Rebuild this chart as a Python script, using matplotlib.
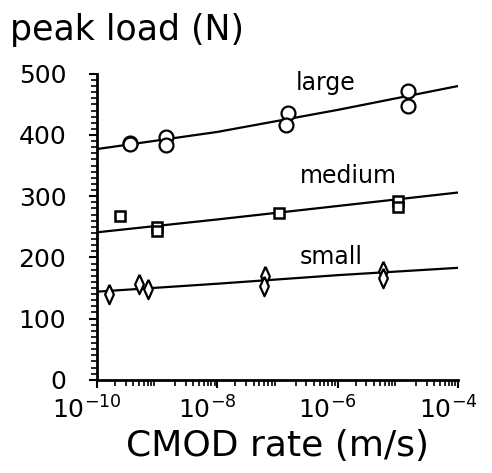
import matplotlib.pyplot as plt
import matplotlib.transforms as mtransforms
from matplotlib.ticker import FixedLocator, MultipleLocator, LogLocator, NullFormatter

# CMOD rate (m/s) and peak load (N)
large_rate = [3.5e-10, 3.5e-10, 1.4e-9, 1.4e-9, 1.5e-7, 1.4e-7, 1.5e-5, 1.5e-5]
large_load = [387, 385, 397, 384, 436, 416, 472, 448]
medium_rate = [2.4e-10, 9.8e-10, 9.8e-10, 1.05e-7, 1.0e-5, 1.0e-5]
medium_load = [268, 249, 243, 272, 292, 282]
small_rate = [1.6e-10, 5.0e-10, 7.0e-10, 6.3e-8, 6.0e-8, 5.6e-6, 5.6e-6]
small_load = [140, 157, 148, 169, 154, 178, 166]

# fitted curves
fit_rate = [1e-10, 1e-8, 1e-6, 1e-4]
large_fit = [377, 405, 441, 480]
medium_fit = [241, 262, 284, 306]
small_fit = [144, 157, 171, 183]

labels = ['large', 'medium', 'small']
label_pos = [(6.3e-7, 485), (1.5e-6, 333), (7.8e-7, 200)]

thin_diamond = [(0, 1), (0.45, 0), (0, -1), (-0.45, 0), (0, 1)]

fig = plt.figure(figsize=(4.92, 4.73), dpi=100)
ax = fig.add_axes([0.197, 0.197, 0.734, 0.647])

ax.plot(fit_rate, large_fit, 'k-', lw=1.6)
ax.plot(fit_rate, medium_fit, 'k-', lw=1.6)
ax.plot(fit_rate, small_fit, 'k-', lw=1.6)

ax.plot(large_rate, large_load, 'o', ms=10, mfc='white', mec='black', mew=1.6, ls='none')
ax.plot(medium_rate, medium_load, 's', ms=7, mfc='white', mec='black', mew=1.8, ls='none')
ax.plot(small_rate, small_load, marker=thin_diamond, ms=14, mfc='white', mec='black', mew=1.6, ls='none')

for txt, (x, y) in zip(labels, label_pos):
    ax.text(x, y, txt, ha='center', va='center', fontsize=17)

ax.set_xscale('log')
ax.set_xlim(1e-10, 1e-4)
ax.set_ylim(0, 500)

ax.spines['top'].set_visible(False)
ax.spines['right'].set_visible(False)
ax.spines['left'].set_linewidth(2)
ax.spines['bottom'].set_linewidth(2)

ax.xaxis.set_major_locator(FixedLocator([1e-10, 1e-8, 1e-6, 1e-4]))
ax.set_xticklabels([r'$10^{-10}$', r'$10^{-8}$', r'$10^{-6}$', r'$10^{-4}$'])
ax.xaxis.set_minor_locator(LogLocator(base=10, subs=range(2, 10), numticks=20))
ax.xaxis.set_minor_formatter(NullFormatter())
ax.yaxis.set_major_locator(MultipleLocator(100))
ax.yaxis.set_minor_locator(MultipleLocator(10))

ax.tick_params(axis='both', which='major', direction='out', length=6, width=1.5, labelsize=18)
ax.tick_params(axis='both', which='minor', direction='out', length=4, width=1.2)
ax.tick_params(axis='x', which='major', pad=6)
ax.tick_params(axis='y', which='major', pad=16)

shift = mtransforms.ScaledTranslation(-10 / 100, 0, fig.dpi_scale_trans)
for lab in ax.get_xticklabels():
    lab.set_transform(lab.get_transform() + shift)

ax.set_xlabel('CMOD rate (m/s)', fontsize=26, labelpad=4)
fig.text(0.02, 1 - 30 / 473, 'peak load (N)', fontsize=25, ha='left', va='center')

fig.savefig('out.png', dpi=100)
